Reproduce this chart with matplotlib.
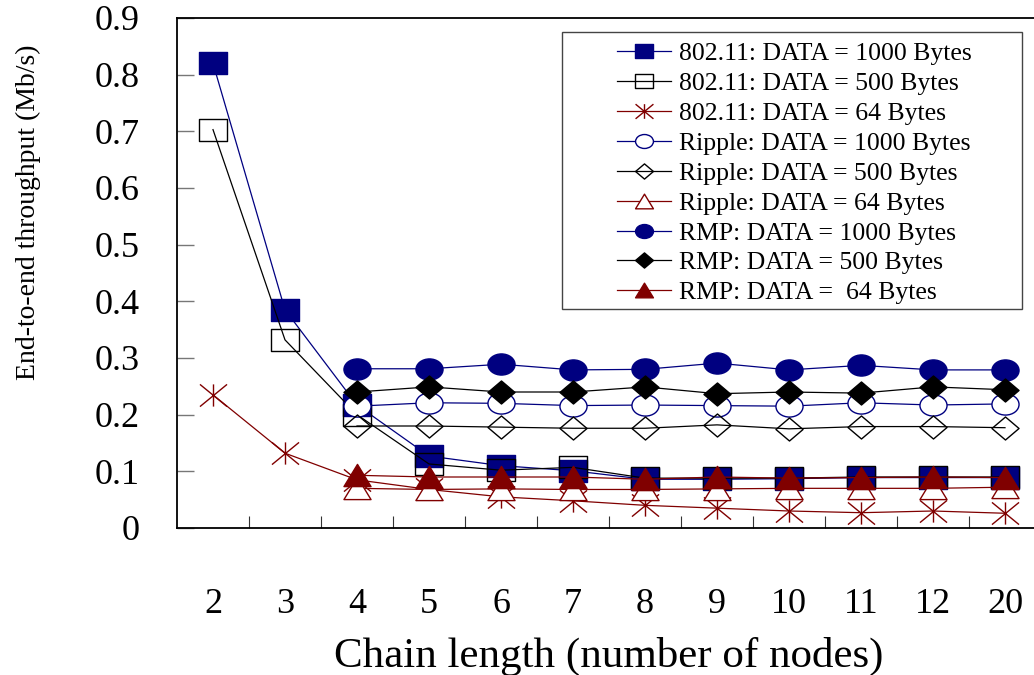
import numpy as np
import matplotlib
matplotlib.use('Agg')
import matplotlib.pyplot as plt
from matplotlib.path import Path
from matplotlib.patches import Rectangle

plt.rcParams['font.family'] = ['Liberation Serif', 'DejaVu Serif']

nan = np.nan
chain_labels = ['2', '3', '4', '5', '6', '7', '8', '9', '10', '11', '12', '20']

dot11_1000 = [0.820, 0.385, 0.217, 0.127, 0.110, 0.101, 0.086, 0.086, 0.087, 0.089, 0.089, 0.089]
dot11_500 = [0.703, 0.332, 0.200, 0.113, 0.102, 0.107, 0.088, 0.088, 0.088, 0.090, 0.090, 0.090]
dot11_64 = [0.235, 0.132, 0.085, 0.068, 0.055, 0.048, 0.040, 0.035, 0.030, 0.027, 0.030, 0.026]
ripple_1000 = [nan, nan, 0.215, 0.221, 0.220, 0.216, 0.217, 0.216, 0.215, 0.221, 0.217, 0.219]
ripple_500 = [nan, nan, 0.180, 0.180, 0.178, 0.176, 0.176, 0.182, 0.175, 0.179, 0.179, 0.177]
ripple_64 = [nan, nan, 0.070, 0.068, 0.069, 0.068, 0.068, 0.069, 0.070, 0.070, 0.070, 0.072]
rmp_1000 = [nan, nan, 0.281, 0.281, 0.289, 0.279, 0.280, 0.291, 0.279, 0.287, 0.279, 0.279]
rmp_500 = [nan, nan, 0.240, 0.249, 0.240, 0.240, 0.249, 0.237, 0.240, 0.238, 0.249, 0.244]
rmp_64 = [nan, nan, 0.093, 0.090, 0.090, 0.090, 0.086, 0.090, 0.088, 0.089, 0.090, 0.089]

labels = [
    '802.11: DATA = 1000 Bytes',
    '802.11: DATA = 500 Bytes',
    '802.11: DATA = 64 Bytes',
    'Ripple: DATA = 1000 Bytes',
    'Ripple: DATA = 500 Bytes',
    'Ripple: DATA = 64 Bytes',
    'RMP: DATA = 1000 Bytes',
    'RMP: DATA = 500 Bytes',
    'RMP: DATA =  64 Bytes',
]
series = [dot11_1000, dot11_500, dot11_64, ripple_1000, ripple_500, ripple_64,
          rmp_1000, rmp_500, rmp_64]

NAVY = '#000080'
DRED = '#800000'
BLACK = '#000000'

# markers are a bit wider than tall, like the original figure
SQ = Path([(-1, -0.78), (1, -0.78), (1, 0.78), (-1, 0.78), (-1, -0.78)],
          [Path.MOVETO, Path.LINETO, Path.LINETO, Path.LINETO, Path.CLOSEPOLY])
circ = Path.unit_circle()
CIRC = Path(circ.vertices * np.array([1.0, 0.78]), circ.codes)
DIAM = Path([(0, -0.85), (1, 0), (0, 0.85), (-1, 0), (0, -0.85)],
            [Path.MOVETO, Path.LINETO, Path.LINETO, Path.LINETO, Path.CLOSEPOLY])
TRI = Path([(-1, -0.82), (1, -0.82), (0, 0.82), (-1, -0.82)],
           [Path.MOVETO, Path.LINETO, Path.LINETO, Path.CLOSEPOLY])
STAR = Path([(-1, -0.82), (1, 0.82), (-1, 0.82), (1, -0.82), (0, -0.82), (0, 0.82)],
            [Path.MOVETO, Path.LINETO, Path.MOVETO, Path.LINETO, Path.MOVETO, Path.LINETO])

styles = [
    dict(color=NAVY, marker=SQ, mfc=NAVY, mec=NAVY),
    dict(color=BLACK, marker=SQ, mfc='none', mec=BLACK),
    dict(color=DRED, marker=STAR, mfc='none', mec=DRED),
    dict(color=NAVY, marker=CIRC, mfc='white', mec=NAVY),
    dict(color=BLACK, marker=DIAM, mfc='none', mec=BLACK),
    dict(color=DRED, marker=TRI, mfc='white', mec=DRED),
    dict(color=NAVY, marker=CIRC, mfc=NAVY, mec=NAVY),
    dict(color=BLACK, marker=DIAM, mfc=BLACK, mec=BLACK),
    dict(color=DRED, marker=TRI, mfc=DRED, mec=DRED),
]

fig = plt.figure(figsize=(10.34, 6.75), dpi=100)
ax = fig.add_axes([177 / 1034, 147 / 675, 864 / 1034, 510 / 675])

x = np.arange(len(chain_labels)) + 0.5
handles = []
for vals, lab, st in zip(series, labels, styles):
    h, = ax.plot(x, vals, linewidth=0.9, markersize=19.5, markeredgewidth=1.0,
                 label=lab, **st)
    handles.append(h)

ax.set_xlim(0, len(chain_labels))
ax.set_ylim(0, 0.9)

ax.set_xticks(x)
ax.set_xticklabels(chain_labels, fontsize=26)
ax.set_xticks(np.arange(1, len(chain_labels)), minor=True)
ax.tick_params(axis='x', which='major', length=0, pad=43)
ax.tick_params(axis='x', which='minor', direction='in', length=9, width=0.8,
               color='#333333')

ax.set_yticks(np.arange(0, 0.91, 0.1))
ax.set_yticklabels(['0', '0.1', '0.2', '0.3', '0.4', '0.5', '0.6', '0.7', '0.8', '0.9'],
                   fontsize=26)
ax.tick_params(axis='y', direction='in', length=12, width=1.0, color='#777777', pad=27)

for s in ax.spines.values():
    s.set_linewidth(1.3)
    s.set_color('black')

ax.set_xlabel('Chain length (number of nodes)', fontsize=31, labelpad=12)
fig.text(28 / 1034, 1 - 212 / 675, 'End-to-end throughput (Mb/s)', rotation=90,
         ha='center', va='center', fontsize=20)

leg = fig.legend(handles=handles, loc='upper left',
                 bbox_to_anchor=(617 / 1034, 1 - 42 / 675),
                 fontsize=18.5, frameon=False, markerscale=0.66,
                 handlelength=2.1, handletextpad=0.3, labelspacing=0.27,
                 borderpad=0.0, borderaxespad=0.0)
fig.patches.append(Rectangle((562 / 1034, 1 - 309 / 675), 460 / 1034, 277 / 675,
                             transform=fig.transFigure, fill=True, facecolor='white',
                             edgecolor='#444444', linewidth=1.0, zorder=2))
leg.set_zorder(3)

fig.savefig('out.png', dpi=100)
